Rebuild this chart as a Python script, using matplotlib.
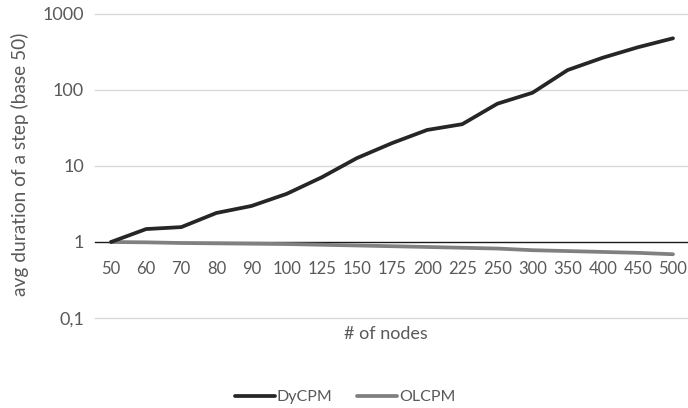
import matplotlib
matplotlib.use("Agg")
import matplotlib.pyplot as plt
from matplotlib.ticker import FixedLocator, FixedFormatter, NullLocator

plt.rcParams['font.family'] = ['Lato', 'DejaVu Sans']

categories = ["50", "60", "70", "80", "90", "100", "125", "150", "175", "200",
              "225", "250", "300", "350", "400", "450", "500"]
dycpm = [1.0, 1.48, 1.57, 2.41, 2.98, 4.3, 7.1, 12.7, 20.0, 29.8,
         35.5, 66.0, 92.0, 183.0, 266.0, 365.0, 479.0]
olcpm = [1.0, 0.99, 0.97, 0.96, 0.95, 0.94, 0.92, 0.90, 0.88, 0.86,
         0.84, 0.82, 0.78, 0.76, 0.74, 0.72, 0.69]
y_ticks = [0.1, 1, 10, 100, 1000]
y_tick_labels = ["0,1", "1", "10", "100", "1000"]

W, H = 688, 408
fig = plt.figure(figsize=(W / 100, H / 100), dpi=100)
ax_left, ax_right, ax_top, ax_bottom = 95, 688, 14, 318
ax = fig.add_axes([ax_left / W, 1 - ax_bottom / H, (ax_right - ax_left) / W, (ax_bottom - ax_top) / H])

x = list(range(len(categories)))
ax.plot(x, dycpm, color="#262626", lw=2.7, solid_capstyle="round", label="DyCPM", zorder=4)
ax.plot(x, olcpm, color="#808080", lw=2.7, solid_capstyle="round", label="OLCPM", zorder=3)

ax.set_yscale("log")
ax.set_ylim(0.1, 1000)
first_px, last_px = 111, 673
spacing = (last_px - first_px) / 16
ax.set_xlim(-(first_px - ax_left) / spacing, 16 + (ax_right - last_px) / spacing)

ax.yaxis.set_major_locator(FixedLocator(y_ticks))
ax.yaxis.set_major_formatter(FixedFormatter(y_tick_labels))
ax.yaxis.set_minor_locator(NullLocator())
ax.tick_params(axis="y", length=0, pad=8, labelsize=13, labelcolor="#595959")
for yv in y_ticks:
    if yv != 1:
        ax.axhline(yv, color="#d9d9d9", lw=1, zorder=1, clip_on=False)

for s in ["top", "right", "left"]:
    ax.spines[s].set_visible(False)
ax.spines["bottom"].set_position(("data", 1))
ax.spines["bottom"].set_color("#1a1a1a")
ax.spines["bottom"].set_linewidth(1.0)
ax.spines["bottom"].set_zorder(2)
ax.set_xticks(x)
ax.set_xticklabels(categories)
ax.tick_params(axis="x", length=0, pad=14, labelsize=12, labelcolor="#595959")

fig.text(20 / W, 1 - 164 / H, "avg duration of a step (base 50)", rotation=90,
         ha="center", va="center", fontsize=13.8, color="#595959")
fig.text(386 / W, 1 - 334 / H, "# of nodes", ha="center", va="center",
         fontsize=13, color="#595959")

leg = fig.legend(loc="center", bbox_to_anchor=(345 / W, 1 - 397 / H), ncol=2,
                 frameon=False, fontsize=11.5, handlelength=2.5, handletextpad=0.15,
                 columnspacing=1.5)
for t in leg.get_texts():
    t.set_color("#595959")

fig.savefig("out.png", dpi=100)
